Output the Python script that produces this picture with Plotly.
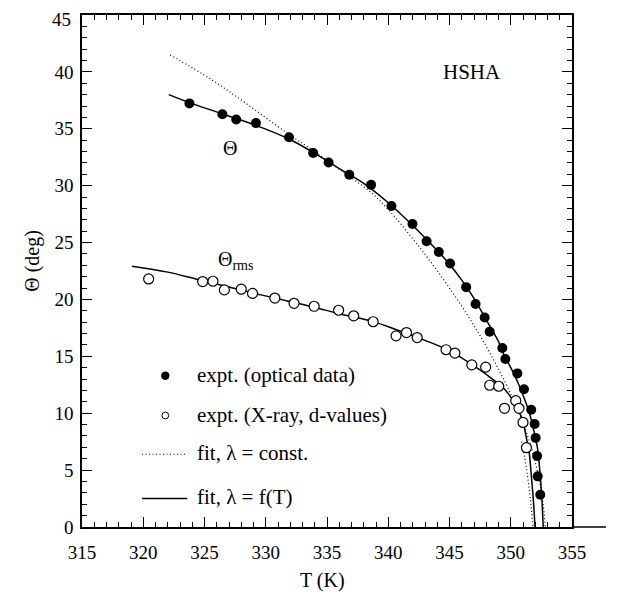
import plotly.graph_objects as go

# ---------------- data ----------------
T_opt = [323.77, 326.46, 327.59, 329.2, 331.9, 333.87, 335.13, 336.82, 338.6, 340.26,
         341.98, 343.13, 344.13, 345.05, 346.36, 347.13, 347.87, 348.28, 349.31, 349.56,
         350.54, 351.08, 351.67, 351.95, 352.03, 352.15, 352.2, 352.41]
theta_opt = [37.23, 36.28, 35.82, 35.5, 34.26, 32.87, 32.03, 30.96, 30.07, 28.21,
             26.63, 25.12, 24.17, 23.16, 21.08, 19.6, 18.41, 17.17, 15.73, 14.77,
             13.5, 12.1, 10.3, 9.05, 7.83, 6.24, 4.45, 2.84]

T_xray = [320.44, 324.85, 325.69, 326.62, 328.0, 328.92, 330.74, 332.31, 333.95, 335.95,
          337.18, 338.77, 340.64, 341.49, 342.36, 344.72, 345.44, 346.82, 347.95, 348.28,
          349.02, 349.49, 350.41, 350.67, 351.0, 351.28]
theta_xray = [21.8, 21.57, 21.6, 20.84, 20.9, 20.53, 20.12, 19.66, 19.4, 19.05,
              18.56, 18.04, 16.8, 17.09, 16.65, 15.58, 15.29, 14.25, 14.05, 12.46,
              12.37, 10.43, 11.1, 10.43, 9.19, 6.97]

# fit, lambda = const (dotted) for Theta
T_fit_const = [322.2, 325.6, 328.3, 331.9, 334.0, 336.0, 338.6, 340.0, 342.4, 345.0,
               347.5, 349.6, 350.6, 351.5, 352.2, 352.6, 352.82]
theta_fit_const = [41.5, 39.3, 37.3, 34.5, 33.0, 31.45, 29.4, 27.9, 24.8, 21.0,
                   16.8, 12.6, 10.2, 7.6, 4.8, 2.4, 0.0]

# fit, lambda = f(T) (solid) for Theta
T_fit_fT = [322.08, 323.77, 326.5, 329.2, 331.9, 333.9, 336.0, 338.0, 340.0, 342.0,
            344.0, 345.0, 346.0, 347.0, 348.0, 349.0, 349.5, 350.0, 350.5, 351.0,
            351.5, 351.9, 352.2, 352.4, 352.55, 352.65]
theta_fit_fT = [38.0, 37.3, 36.3, 35.3, 34.1, 32.9, 31.5, 30.2, 28.5, 26.5,
                24.3, 23.1, 21.7, 20.1, 18.2, 16.3, 15.0, 14.0, 12.9, 11.6,
                10.1, 8.4, 6.8, 4.6, 2.3, 0.0]

# fit, lambda = f(T) (solid) for Theta_rms
T_fit_rms = [319.08, 322.0, 324.46, 327.0, 329.6, 332.15, 334.0, 336.0, 338.77, 340.5,
             342.4, 344.97, 347.54, 348.5, 349.59, 350.62, 351.0, 351.28, 351.5, 351.64,
             351.8, 351.9, 351.98]
theta_fit_rms = [22.92, 22.4, 21.75, 21.1, 20.4, 19.77, 19.3, 18.75, 18.05, 17.4,
                 16.65, 15.5, 13.76, 13.0, 12.0, 10.3, 9.2, 7.8, 6.6, 5.0,
                 3.0, 1.5, 0.0]

# fit, lambda = const (dotted) for Theta_rms (visible near T_c only)
T_fit_rms_const = [350.9, 351.3, 351.6, 351.82]
theta_fit_rms_const = [7.5, 5.0, 2.5, 0.0]

x_ticks = [315, 320, 325, 330, 335, 340, 345, 350, 355]
y_ticks = [0, 5, 10, 15, 20, 25, 30, 35, 40, 45]

FONT = "Liberation Serif, Times New Roman, Tinos, DejaVu Serif, serif"
DOT = "1px,2.5px"

fig = go.Figure()

fig.add_trace(go.Scatter(x=T_fit_const, y=theta_fit_const, mode="lines",
                         line=dict(color="black", width=1.2, dash=DOT, shape="spline"),
                         showlegend=False, hoverinfo="skip"))
fig.add_trace(go.Scatter(x=T_fit_rms_const, y=theta_fit_rms_const, mode="lines",
                         line=dict(color="black", width=1.2, dash=DOT, shape="spline"),
                         showlegend=False, hoverinfo="skip"))
fig.add_trace(go.Scatter(x=T_fit_fT, y=theta_fit_fT, mode="lines",
                         line=dict(color="black", width=1.5, shape="spline"),
                         showlegend=False))
fig.add_trace(go.Scatter(x=T_fit_rms, y=theta_fit_rms, mode="lines",
                         line=dict(color="black", width=1.5, shape="spline"),
                         showlegend=False))
fig.add_trace(go.Scatter(x=T_opt, y=theta_opt, mode="markers",
                         marker=dict(symbol="circle", size=10, color="black"),
                         showlegend=False))
fig.add_trace(go.Scatter(x=T_xray, y=theta_xray, mode="markers",
                         marker=dict(symbol="circle", size=10, color="white",
                                     line=dict(color="black", width=1.2)),
                         showlegend=False))

# The page adds an 8px body margin, so the figure is drawn 16px smaller and every
# target pixel position (in the 642x601 window) is shifted by -8.
OFF = 8
W, H = 642 - 2 * OFF, 601 - 2 * OFF
# target positions in the window
L_t, R_t, TOP_t, BOT_t = 82, 572, 15, 527
L, R, TOP, BOT = L_t - OFF, R_t - OFF, TOP_t - OFF, BOT_t - OFF
PW, PH = R - L, BOT - TOP


def px(x):  # window pixel -> paper
    return (x - OFF - L) / PW


def py(y):  # window pixel -> paper
    return (BOT - (y - OFF)) / PH


shapes = []
# x axis line extending past the frame
shapes.append(dict(type="line", xref="paper", yref="paper", x0=1, x1=px(606), y0=0, y1=0,
                   line=dict(color="black", width=1.5)))
# legend symbols (anchored in data units, sized in pixels)
shapes.append(dict(type="circle", xref="x", yref="y", xsizemode="pixel", ysizemode="pixel",
                   xanchor=321.8, yanchor=13.3, x0=-3.8, x1=3.8, y0=-3.8, y1=3.8,
                   fillcolor="black", line=dict(color="black", width=1)))
shapes.append(dict(type="circle", xref="x", yref="y", xsizemode="pixel", ysizemode="pixel",
                   xanchor=321.8, yanchor=9.8, x0=-3.4, x1=3.4, y0=-3.4, y1=3.4,
                   fillcolor="white", line=dict(color="black", width=1)))
shapes.append(dict(type="line", xref="x", yref="y", x0=319.9, x1=323.6, y0=6.4, y1=6.4,
                   line=dict(color="black", width=1.1, dash=DOT)))
shapes.append(dict(type="line", xref="x", yref="y", x0=319.9, x1=323.6, y0=2.5, y1=2.5,
                   line=dict(color="black", width=1.5)))

annos = []
leg_texts = ["expt. (optical data)", "expt. (X-ray, d-values)",
             "fit, \u03bb = const.", "fit, \u03bb = f(T)"]
leg_y = [13.35, 9.85, 6.5, 2.6]
for t, yy in zip(leg_texts, leg_y):
    annos.append(dict(text=t, xref="x", yref="y", x=324.2, y=yy,
                      xanchor="left", yanchor="middle", showarrow=False,
                      font=dict(family=FONT, size=21, color="black")))
annos.append(dict(text="HSHA", xref="x", yref="y", x=346.8, y=40.0,
                  xanchor="center", yanchor="middle", showarrow=False,
                  font=dict(family=FONT, size=21, color="black")))
annos.append(dict(text="\u0398", xref="x", yref="y", x=327.05, y=33.3,
                  xanchor="center", yanchor="middle", showarrow=False,
                  font=dict(family=FONT, size=20, color="black")))
annos.append(dict(text="\u0398<sub>rms</sub>", xref="x", yref="y", x=325.9, y=23.4,
                  xanchor="left", yanchor="middle", showarrow=False,
                  font=dict(family=FONT, size=20, color="black")))
annos.append(dict(text="\u0398 (deg)", xref="paper", yref="y", x=px(33), y=23.4,
                  xanchor="center", yanchor="middle", showarrow=False, textangle=-90,
                  font=dict(family=FONT, size=20, color="black")))
annos.append(dict(text="T (K)", xref="x", yref="paper", x=334.6, y=py(580),
                  xanchor="center", yanchor="middle", showarrow=False,
                  font=dict(family=FONT, size=20, color="black")))
# top y tick label, kept inside the page so it is not clipped
annos.append(dict(text=str(y_ticks[-1]), xref="paper", yref="paper", x=px(72), y=py(OFF),
                  xanchor="right", yanchor="top", showarrow=False, borderpad=0,
                  font=dict(family=FONT, size=19, color="black")))

axis_common = dict(showgrid=False, zeroline=False, showline=True, linecolor="black",
                   linewidth=1.5, mirror="allticks", ticks="inside", ticklen=10,
                   tickwidth=1.2, tickcolor="black", ticklabeloverflow="allow",
                   automargin=False,
                   tickfont=dict(family=FONT, size=19, color="black"),
                   minor=dict(ticks="inside", ticklen=5, tickwidth=1, tickcolor="black", dtick=1,
                              showgrid=False))

fig.update_xaxes(range=[315, 355], tickvals=x_ticks, ticktext=[str(v) for v in x_ticks],
                 ticklabelstandoff=7, **axis_common)
fig.update_yaxes(range=[0, 45], tickvals=y_ticks[:-1], ticktext=[str(v) for v in y_ticks[:-1]],
                 ticklabelstandoff=3, **axis_common)

fig.update_layout(width=W, height=H,
                  margin=dict(l=L, r=W - R, t=TOP, b=H - BOT, pad=0, autoexpand=False),
                  paper_bgcolor="white", plot_bgcolor="white",
                  showlegend=False, shapes=shapes, annotations=annos,
                  font=dict(family=FONT, color="black"))

fig.write_html("out.html")
